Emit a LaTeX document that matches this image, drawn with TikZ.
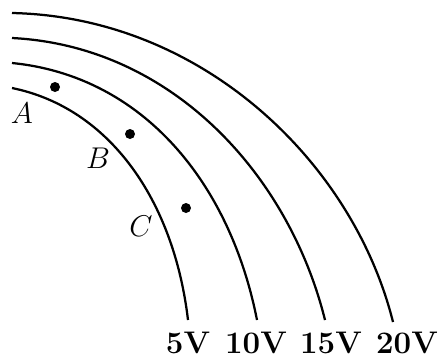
\documentclass[tikz,border=0pt]{standalone}
\usepackage{tikz}
\newcommand{\lblsize}{\fontsize{12.5}{15}\selectfont}
\tikzset{
  equi/.style={line width=0.9pt},
  charge/.style={circle,fill,inner sep=0pt,minimum size=4pt},
  volt/.style={anchor=base,font=\lblsize\bfseries},
  pointname/.style={font=\lblsize}
}

\begin{document}
\begin{tikzpicture}[x=0.4pt, y=-0.4pt]
  \useasboundingbox (0,0) rectangle (439,356);
  % equipotential lines, inner to outer
  \draw[equi] (12,88) .. controls (110,108) and (174,201) .. (188,320);
  \draw[equi] (12,63) .. controls (143,76) and (230,183) .. (257,320);
  \draw[equi] (12,38) .. controls (172,46) and (289,175) .. (325,320);
  \draw[equi] (12,13) .. controls (202,17) and (353,162) .. (393,322);
  % points
  \node[charge] (dotA) at (55,87) {};
  \node[charge] (dotB) at (130,134) {};
  \node[charge] (dotC) at (186,208) {};
  \node[pointname] (labA) at (22,113) {$A$};
  \node[pointname] (labB) at (98,158) {$B$};
  \node[pointname] (labC) at (141,226) {$C$};
  % potentials
  \node[volt] (v5) at (188,353) {5V};
  \node[volt] (v10) at (256,353) {10V};
  \node[volt] (v15) at (331,353) {15V};
  \node[volt] (v20) at (407,353) {20V};
\end{tikzpicture}
\end{document}
